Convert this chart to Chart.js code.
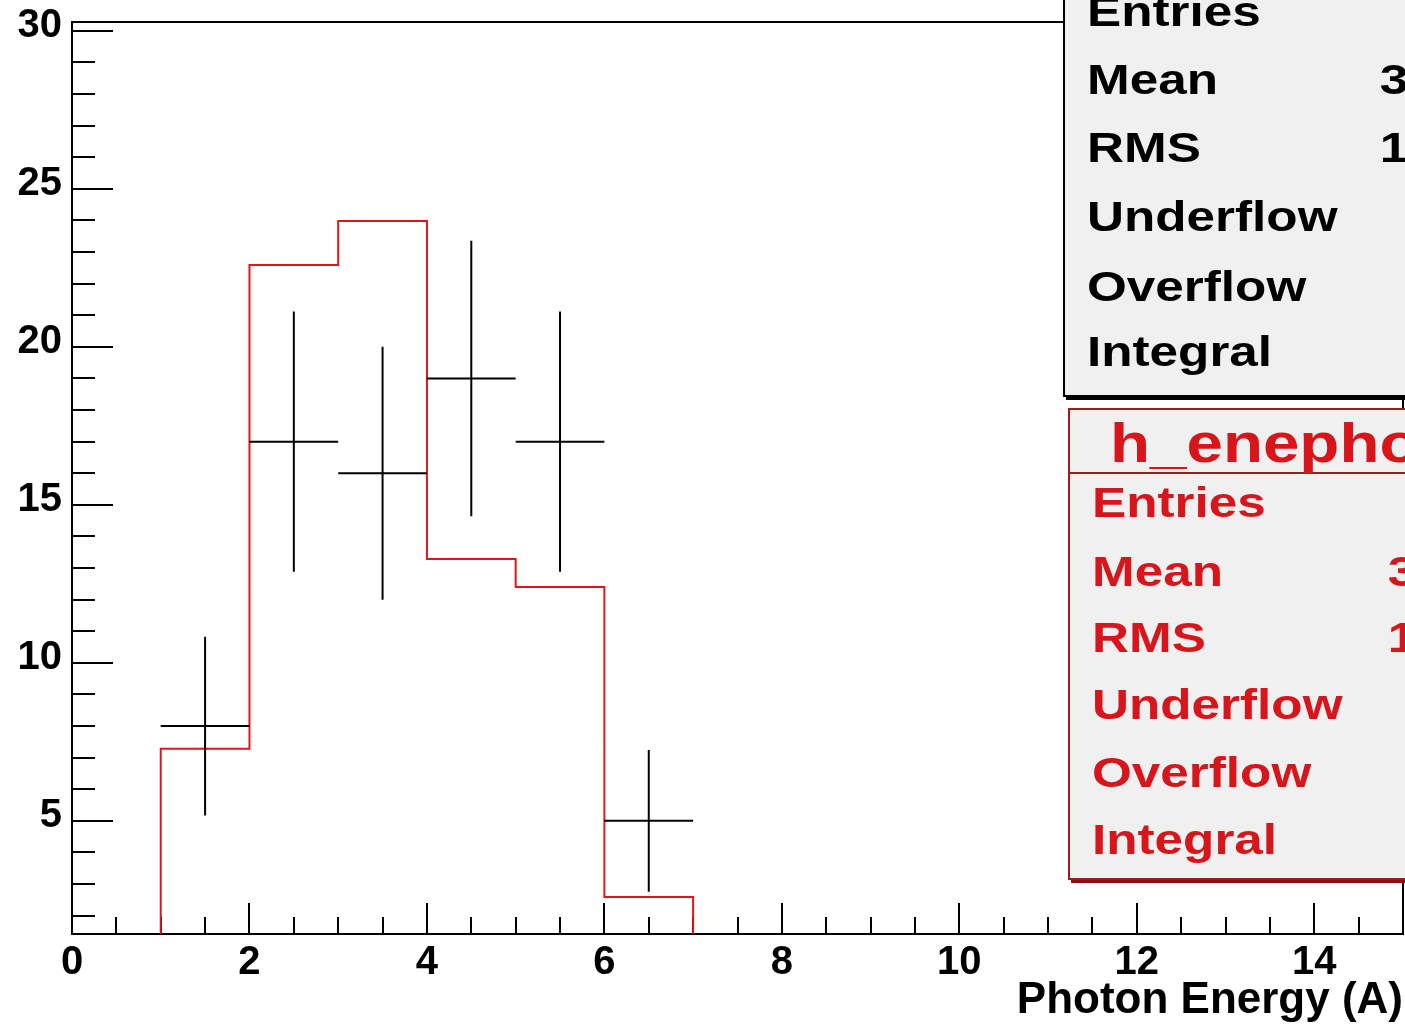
<!DOCTYPE html>
<html>
<head>
<meta charset="utf-8">
<script src="https://cdn.jsdelivr.net/npm/chart.js@4.4.0/dist/chart.umd.min.js"></script>
<style>
html,body{margin:0;padding:0;background:#fff;overflow:hidden;width:1405px;height:1024px;}
#wrap{position:absolute;left:0;top:0;width:1405px;height:1024px;}
.box{position:absolute;background:#f0f0f0;box-sizing:border-box;}
.row,.val,.ttl{position:absolute;font-family:"Liberation Sans",Arial,sans-serif;font-weight:bold;white-space:nowrap;}
.row{font-size:42px;line-height:50px;transform:scaleX(1.22);transform-origin:0 0;}
.val{font-size:42px;line-height:50px;width:300px;text-align:right;transform:scaleX(1.22);transform-origin:100% 0;}
.ttl{font-size:56px;line-height:64px;transform:scaleX(1.17);transform-origin:0 0;}
</style>
</head>
<body>
<div id="wrap"><canvas id="c" width="1405" height="1024"></canvas></div>
<div id="stats"></div>
<script>
// ---- data ----
const binEdges = [0,1,2,3,4,5,6,7,8,9,10,11,12,13,14,15];
const mcCounts = [0,7.28,22.59,23.98,13.29,12.40,2.59,0,0,0,0,0,0,0,0];
const dataX = [1.5,2.5,3.5,4.5,5.5,6.5];
const dataXLow = [1,2,3,4,5,6];
const dataXHigh = [2,3,4,5,6,7];
const dataCounts = [8,17,16,19,17,5];
const dataErrors = [2.83,4.12,4.0,4.36,4.12,2.24];
const xTickLabels = [0,2,4,6,8,10,12,14];
const yTickLabels = [5,10,15,20,25,30];
const xMinorTicks = [0.5,1,1.5,2,2.5,3,3.5,4,4.5,5,5.5,6,6.5,7,7.5,8,8.5,9,9.5,10,10.5,11,11.5,12,12.5,13,13.5,14,14.5];
const yMinorTicks = [2,3,4,5,6,7,8,9,10,11,12,13,14,15,16,17,18,19,20,21,22,23,24,25,26,27,28,29,30];
const xTitle = 'Photon Energy (A)';
const statLabels = ['Entries','Mean','RMS','Underflow','Overflow','Integral'];
const dataStatValues = ['82','3.927','1.423','0','0','82'];
const mcStatValues = ['82','3.607','1.290','0','0','82'];
const mcTitle = 'h_enephoton';

// ---- build datasets ----
const histPts = [];
mcCounts.forEach((v,i)=>{ histPts.push({x:binEdges[i],y:v}); histPts.push({x:binEdges[i+1],y:v}); });
const errPts = [];
dataX.forEach((xc,i)=>{
  errPts.push({x:xc,y:dataCounts[i]-dataErrors[i]});
  errPts.push({x:xc,y:dataCounts[i]+dataErrors[i]});
  errPts.push({x:xc,y:null});
  errPts.push({x:dataXLow[i],y:dataCounts[i]});
  errPts.push({x:dataXHigh[i],y:dataCounts[i]});
  errPts.push({x:dataXHigh[i],y:null});
});

const rootFrame = {
  id:'rootFrame',
  beforeDatasetsDraw(chart){
    const {ctx, chartArea:a, scales:{x,y}} = chart;
    ctx.save();
    ctx.strokeStyle='#000'; ctx.lineWidth=2;
    ctx.strokeRect(a.left,a.top,a.right-a.left,a.bottom-a.top);
    ctx.beginPath();
    yMinorTicks.forEach(v=>{const p=Math.round(y.getPixelForValue(v)); ctx.moveTo(a.left,p); ctx.lineTo(a.left+(yTickLabels.includes(v)?41:23),p);});
    xMinorTicks.forEach(v=>{const p=Math.round(x.getPixelForValue(v)); ctx.moveTo(p,a.bottom); ctx.lineTo(p,a.bottom-(xTickLabels.includes(v)?31:17));});
    xTickLabels.forEach(v=>{const p=Math.round(x.getPixelForValue(v)); ctx.moveTo(p,a.bottom); ctx.lineTo(p,a.bottom-31);});
    ctx.stroke();
    ctx.restore();
  }
};

const tickFont = {family:'"Liberation Sans", Arial, sans-serif', weight:'bold', size:40};
new Chart(document.getElementById('c'), {
  type:'line',
  data:{datasets:[
    {label:'data', data:errPts, borderColor:'#000', borderWidth:2, pointRadius:0, spanGaps:false, tension:0},
    {label:'mc', data:histPts, borderColor:'#e0151a', borderWidth:2, pointRadius:0, tension:0, fill:false}
  ]},
  options:{
    responsive:false, animation:false,
    layout:{padding:{top:22,right:2,left:0,bottom:0}},
    plugins:{legend:{display:false}, tooltip:{enabled:false}},
    scales:{
      x:{type:'linear', min:0, max:15,
        grid:{display:false}, border:{display:false},
        afterBuildTicks:(s)=>{s.ticks = xTickLabels.map(v=>({value:v}));},
        afterFit:(s)=>{s.height=90; s.paddingLeft=0; s.paddingRight=0;},
        ticks:{font:tickFont, color:'#000', padding:-3, maxRotation:0, autoSkip:false},
        title:{display:true, text:xTitle, align:'end', color:'#000', padding:{top:0,bottom:-3},
          font:{family:'"Liberation Sans", Arial, sans-serif', weight:'bold', size:44}}
      },
      y:{type:'linear', min:1.42, max:30.28,
        grid:{display:false}, border:{display:false},
        afterBuildTicks:(s)=>{s.ticks = yTickLabels.map(v=>({value:v}));},
        afterFit:(s)=>{s.width=72; s.paddingTop=0; s.paddingBottom=0;},
        ticks:{font:tickFont, color:'#000', padding:2, labelOffset:-5, autoSkip:false}
      }
    }
  },
  plugins:[rootFrame]
});

// ---- stats boxes (HTML text) ----
const st = document.getElementById('stats');
function el(cls, css, txt){const d=document.createElement('div'); d.className=cls; d.style.cssText=css; if(txt!==undefined) d.textContent=txt; st.appendChild(d); return d;}
el('box','left:1063px;top:-40px;width:470px;height:437px;border:2px solid #000;box-shadow:3px 3px 0 #000;');
const box1Tops=[-13,55,123,192,262,327];
statLabels.forEach((s,i)=>{
  el('row','left:1087px;top:'+box1Tops[i]+'px;color:#000;', s);
  el('val','left:1208px;top:'+box1Tops[i]+'px;color:#000;', dataStatValues[i]);
});
el('box','left:1068px;top:408px;width:470px;height:472px;border:2px solid #9c1c1c;box-shadow:3px 3px 0 #8a1010;');
el('box','left:1068px;top:472px;width:470px;height:2px;background:#9c1c1c;');
el('ttl','left:1110px;top:411px;color:#d8151a;', mcTitle);
const box2Tops=[478,547,613,680,748,815];
statLabels.forEach((s,i)=>{
  el('row','left:1092px;top:'+box2Tops[i]+'px;color:#d8151a;', s);
  el('val','left:1216px;top:'+box2Tops[i]+'px;color:#d8151a;', mcStatValues[i]);
});
</script>
</body>
</html>
